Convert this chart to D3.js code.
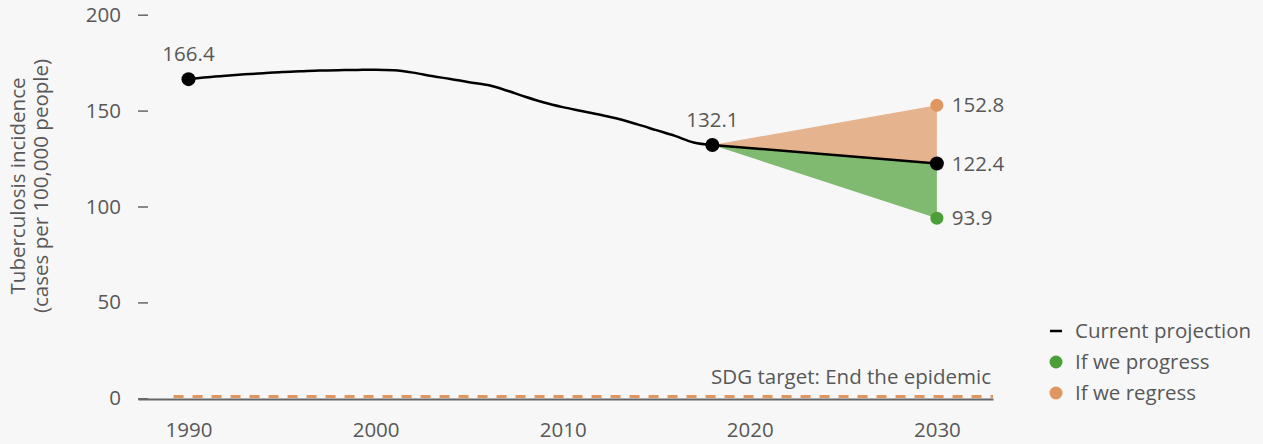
<!DOCTYPE html>
<html lang="en">
<head>
<meta charset="utf-8">
<title>Tuberculosis incidence</title>
<style>
body {
  margin: 0;
  background: #f7f7f7;
}
svg text {
  font-family: "Open Sans", sans-serif;
  fill: #585858;
}
.axis text {
  font-size: 20.5px;
}
.axis path, .axis line {
  stroke: #666;
}
</style>
</head>
<body>
<div id="chart"></div>
<script src="https://d3js.org/d3.v7.min.js"></script>
<script>

// historical estimate, 1990-2018
var histYears = [1990, 1991, 1992, 1993, 1994, 1995, 1996, 1997, 1998, 1999,
  2000, 2001, 2002, 2003, 2004, 2005, 2006, 2007, 2008, 2009,
  2010, 2011, 2012, 2013, 2014, 2015, 2016, 2017, 2018];
var histValues = [166.4, 167.4, 168.2, 168.9, 169.5, 170.1, 170.5, 170.9, 171.1, 171.2,
  171.3, 171.0, 169.8, 168.0, 166.5, 164.8, 163.3, 160.5, 157.2, 154.2,
  151.8, 149.8, 147.8, 145.6, 142.8, 139.8, 136.8, 133.4, 132.1];

// projections 2018-2030
var projYears = [2018, 2030];
var currentProj = [132.1, 122.4];
var progressProj = [132.1, 93.9];
var regressProj = [132.1, 152.8];

var sdgTarget = 1;
var xTicks = [1990, 2000, 2010, 2020, 2030];
var yTicks = [0, 50, 100, 150, 200];
var legendLabels = ['Current projection', 'If we progress', 'If we regress'];

var W = 1263, H = 444, FS = '20.5px';
var colBlack = '#000', colGreen = '#4c9f38', colGreenArea = '#80ba70',
    colOrange = '#e0965f', colOrangeArea = '#e5b38e';

var svg = d3.select('#chart').append('svg')
  .attr('width', W).attr('height', H);

var x = d3.scaleLinear().domain([1987.3, 2033]).range([138, 993]);
var y = d3.scaleLinear().domain([0, 200]).range([398.3, 14.7]);

// y axis
var yAxis = svg.append('g').attr('class', 'axis')
  .attr('transform', 'translate(148,0)')
  .call(d3.axisLeft(y).tickValues(yTicks).tickSize(10).tickPadding(17));
yAxis.select('.domain').remove();
yAxis.selectAll('line').attr('stroke-width', 1.5);

// x axis
var xAxis = svg.append('g').attr('class', 'axis')
  .attr('transform', 'translate(0,399)')
  .call(d3.axisBottom(x).tickValues(xTicks).tickFormat(d3.format('d')).tickSize(0).tickPadding(23));
xAxis.select('.domain').attr('stroke-width', 2).attr('stroke', '#777');

// y title
var yt = svg.append('text')
  .attr('transform', 'translate(29,186) rotate(-90)')
  .attr('text-anchor', 'middle')
  .style('font-size', FS);
yt.append('tspan').attr('x', 0).attr('dy', '-0.22em').text('Tuberculosis incidence');
yt.append('tspan').attr('x', 0).attr('dy', '1.13em').text('(cases per 100,000 people)');

// SDG target line
svg.append('line')
  .attr('x1', x(1989.2)).attr('x2', x(2033))
  .attr('y1', y(sdgTarget)).attr('y2', y(sdgTarget))
  .attr('stroke', colOrange).attr('stroke-width', 3)
  .attr('stroke-dasharray', '10,9');
svg.append('text')
  .attr('x', x(2033) - 2).attr('y', 384)
  .attr('text-anchor', 'end')
  .style('font-size', FS)
  .text('SDG target: End the epidemic');

// areas
var projIdx = d3.range(projYears.length);
function band(series) {
  return d3.area()
    .x(function(i) { return x(projYears[i]); })
    .y0(function(i) { return y(currentProj[i]); })
    .y1(function(i) { return y(series[i]); });
}
svg.append('path').datum(projIdx).attr('d', band(regressProj)).attr('fill', colOrangeArea);
svg.append('path').datum(projIdx).attr('d', band(progressProj)).attr('fill', colGreenArea);

// historical line
var histLine = d3.line()
  .x(function(i) { return x(histYears[i]); })
  .y(function(i) { return y(histValues[i]); })
  .curve(d3.curveMonotoneX);
svg.append('path').datum(d3.range(histYears.length))
  .attr('d', histLine)
  .attr('fill', 'none').attr('stroke', colBlack).attr('stroke-width', 2.5);

// current projection line
svg.append('path').datum(projIdx)
  .attr('d', d3.line()
    .x(function(i) { return x(projYears[i]); })
    .y(function(i) { return y(currentProj[i]); }))
  .attr('fill', 'none').attr('stroke', colBlack).attr('stroke-width', 2.5);

// dots
var last = projYears.length - 1;
var dots = [
  {yr: histYears[0], v: histValues[0], c: colBlack},
  {yr: projYears[0], v: currentProj[0], c: colBlack},
  {yr: projYears[last], v: currentProj[last], c: colBlack},
  {yr: projYears[last], v: progressProj[last], c: colGreen},
  {yr: projYears[last], v: regressProj[last], c: colOrange}
];
svg.selectAll('circle.pt').data(dots).enter().append('circle')
  .attr('class', 'pt')
  .attr('cx', function(d) { return x(d.yr); })
  .attr('cy', function(d) { return y(d.v); })
  .attr('r', function(d) { return d.c === colBlack ? 7 : 6.5; })
  .attr('fill', function(d) { return d.c; });

// value labels
svg.selectAll('text.top').data(dots.slice(0, 2)).enter().append('text')
  .attr('class', 'top')
  .attr('x', function(d) { return x(d.yr); })
  .attr('y', function(d) { return y(d.v) - 18; })
  .attr('text-anchor', 'middle')
  .style('font-size', FS)
  .text(function(d) { return d.v.toFixed(1); });
svg.selectAll('text.side').data(dots.slice(2)).enter().append('text')
  .attr('class', 'side')
  .attr('x', function(d) { return x(d.yr) + 15; })
  .attr('y', function(d) { return y(d.v); })
  .attr('dy', '0.35em')
  .style('font-size', FS)
  .text(function(d) { return d.v.toFixed(1); });

// legend
var legend = svg.append('g').attr('transform', 'translate(1050,331)');
legendLabels.forEach(function(lab, i) {
  var g = legend.append('g').attr('transform', 'translate(0,' + (i * 31) + ')');
  if (i === 0) {
    g.append('line').attr('x1', 0).attr('x2', 12).attr('y1', 0).attr('y2', 0)
      .attr('stroke', colBlack).attr('stroke-width', 2.5);
  } else {
    g.append('circle').attr('cx', 6).attr('cy', 0).attr('r', 6.5)
      .attr('fill', i === 1 ? colGreen : colOrange);
  }
  g.append('text').attr('x', 25).attr('y', 0).attr('dy', '0.35em')
    .style('font-size', FS).text(lab);
});
</script>
</body>
</html>
